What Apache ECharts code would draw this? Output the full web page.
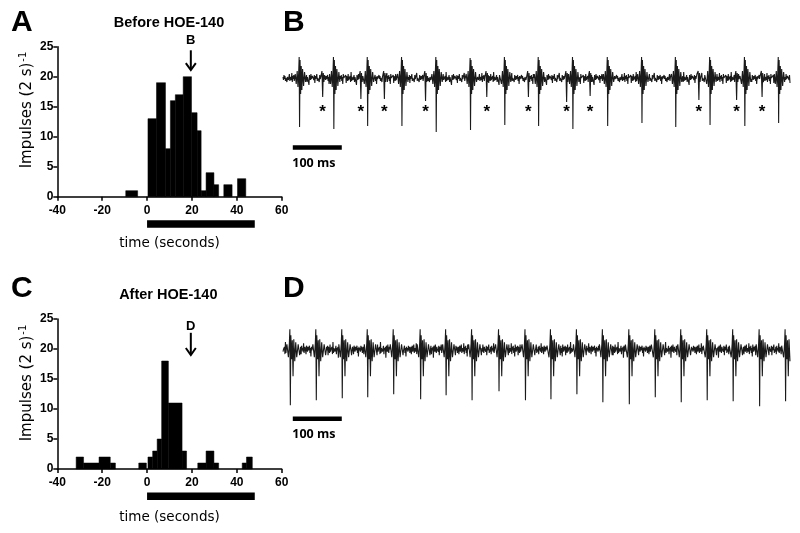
<!DOCTYPE html>
<html><head><meta charset="utf-8">
<script src="https://cdn.jsdelivr.net/npm/echarts@6/dist/echarts.min.js"></script>
<style>html,body{margin:0;padding:0;background:#fff}#c{width:800px;height:533px}</style>
</head><body><div id="c"></div>
<script>
// ---------- Histogram A (before HOE-140): left edge, right edge (s), impulses per 2 s ----------
const binStartA = [-9.5, 0.4, 4.2, 8.2, 10.4, 12.6, 16.1, 19.8, 22.3, 24.1, 26.3, 29.8, 34.2, 40.3];
const binEndA   = [-4.2, 4.2, 8.2, 10.4, 12.6, 16.1, 19.8, 22.3, 24.1, 26.3, 29.8, 31.9, 37.9, 44.0];
const countA    = [1, 13, 19, 8, 16, 17, 20, 14, 11, 1, 4, 2, 2, 3];
// ---------- Histogram C (after HOE-140) ----------
const binStartC = [-31.6, -28.3, -21.4, -16.4, -3.7, 0.4, 2.5, 4.5, 6.5, 9.5, 15.6, 22.6, 26.3, 29.8, 42.4, 44.3];
const binEndC   = [-28.3, -21.4, -16.4, -14.1, -0.3, 2.5, 4.5, 6.5, 9.5, 15.6, 17.6, 26.3, 29.8, 31.9, 44.3, 46.9];
const countC    = [2, 1, 2, 1, 1, 2, 3, 5, 18, 11, 3, 1, 3, 1, 1, 2];
const timeTicks  = [-40, -20, 0, 20, 40, 60];
const countTicks = [0, 5, 10, 15, 20, 25];
const stimulus = [0, 48];              // stimulus bar, seconds
const arrowA = [19.5, 24.4, 21.1, 26.0]; // x, stem top, tip, label y
const arrowC = [19.5, 22.7, 19.0, 23.8];

// ---------- Nerve recordings (ms, amplitude in display units) ----------
const traceEnd = 1035;
const spikeTimesB = [33, 103, 172, 242, 312, 382, 452, 521, 591, 662, 732, 801, 871, 942, 1011];
const spikeUpB    = [21, 21, 21, 21, 21, 20, 21, 21, 21, 21, 21, 21, 21, 21, 21];
const spikeDownB  = [49, 51, 48, 48, 54, 52, 47, 48, 51, 48, 45, 49, 47, 48, 45];
const smallTimesB = [81, 159, 207, 291, 416, 501, 579, 627, 849, 926, 978];
const smallDownB  = [19, 21, 21, 23, 19, 19, 24, 18, 22, 22, 19];
const spikeTimesD = [14, 67, 120, 172, 225, 280, 332, 385, 440, 494, 546, 599, 652, 706, 759, 812, 865, 918, 972, 1025];
const spikeUpD    = [20, 20, 20, 20, 20, 20, 20, 20, 20, 20, 20, 20, 20, 20, 20, 20, 20, 20, 20, 20];
const spikeDownD  = [56, 51, 49, 48, 45, 50, 46, 51, 42, 51, 50, 45, 53, 55, 48, 53, 51, 52, 57, 52];
// baseline noise read as a typical stretch of the record
const noise = [1,-2,3,-1,2,-3,0,2,-4,1,3,-2,-1,4,-3,1,0,-2,5,-4,2,-1,3,-3,1,-6,4,0,-2,2,-1,3,-5,2,1,-3,4,-2,0,-1,2,-4,6,-3,1,2,-2,0,3,-4,1,-1,2,-7,3,1,-2,4,-1,-3,2,0,1,-2,3,-5,2,-1,1,4,-3,0,-2,2,-4,3,-1,1,-2,5,-3,0,2,-1,-4,3,1,-2,2,-1,0,3,-3,1,-6,2,-1];
// spike waveform shapes: offset (ms), value ('U' = peak up, 'D' = peak down)
const shapeB_t = [-8, -6, -4, -2.5, -1, 0, 0.8, 1.8, 3, 4.2, 5.5, 7, 9, 11, 13];
const shapeB_v = [4, -6, 7, -9, 5, 'U', 'D', 18, -16, 12, -12, 9, -8, 6, -4];
const shapeD_t = [-6, -3, -1, 0, 1, 2, 3.5, 5, 6.5, 8, 10, 12, 14, 17, 20];
const shapeD_v = [5, -8, 6, 'U', 'D', 14, -10, 9, -27, 10, -12, 7, -8, 5, -6];
const shapeS_t = [-3, -1.5, 0, 1.2, 2.5];
const shapeS_v = [3, 7, 'D', 5, -4];
const scaleBar = [20, 100]; // start (ms), length (ms)

function buildTrace(spT, spU, spD, shT, shV, smT, smD, noiseShift, noiseGain) {
  const pts = [], windows = [];
  function addShape(t0, up, down, sT, sV) {
    for (let k = 0; k < sT.length; k++) {
      const v = sV[k] === 'U' ? up : (sV[k] === 'D' ? -down : sV[k]);
      pts.push([t0 + sT[k], v]);
    }
    windows.push([t0 + sT[0], t0 + sT[sT.length - 1]]);
  }
  spT.forEach((t, i) => addShape(t, spU[i], spD[i], shT, shV));
  smT.forEach((t, i) => addShape(t, 0, smD[i], shapeS_t, shapeS_v));
  for (let t = 0; t <= traceEnd; t++) {
    if (windows.some(w => t >= w[0] && t <= w[1])) continue;
    pts.push([t, noise[(t + noiseShift) % noise.length] * noiseGain]);
  }
  pts.sort((a, b) => a[0] - b[0]);
  return pts.filter(p => p[0] >= 0 && p[0] <= traceEnd);
}
const traceB = buildTrace(spikeTimesB, spikeUpB, spikeDownB, shapeB_t, shapeB_v, smallTimesB, smallDownB, 0, 1.0);
const traceD = buildTrace(spikeTimesD, spikeUpD, spikeDownD, shapeD_t, shapeD_v, [], [], 37, 1.2);

const FONT = 'Liberation Sans, Arial, sans-serif';
function histAxes(gi) {
  return {
    x: { gridIndex: gi, type: 'value', min: timeTicks[0], max: timeTicks[timeTicks.length - 1],
      interval: timeTicks[1] - timeTicks[0],
      axisLine: { onZero: false, lineStyle: { color: '#000', width: 1.5 } },
      axisTick: { length: 4, lineStyle: { color: '#000', width: 1.5 } },
      axisLabel: { color: '#000', fontSize: 12, fontWeight: 'bold', fontFamily: FONT, margin: 8 },
      splitLine: { show: false },
      name: 'time (seconds)', nameLocation: 'middle', nameGap: gi === 0 ? 40 : 41,
      nameTextStyle: { color: '#000', fontSize: 13.5, fontFamily: 'DejaVu Sans, sans-serif' } },
    y: { gridIndex: gi, type: 'value', min: countTicks[0], max: countTicks[countTicks.length - 1],
      interval: countTicks[1] - countTicks[0],
      axisLine: { show: true, onZero: false, lineStyle: { color: '#000', width: 1.5 } },
      axisTick: { show: true, length: 4, lineStyle: { color: '#000', width: 1.5 } },
      axisLabel: { color: '#000', fontSize: 12, fontWeight: 'bold', fontFamily: FONT, margin: 4 },
      splitLine: { show: false } }
  };
}
function traceAxes(gi) {
  return {
    x: { gridIndex: gi, type: 'value', min: 0, max: traceEnd, show: false, splitLine: { show: false } },
    y: { gridIndex: gi, type: 'value', min: -95, max: 30, show: false, splitLine: { show: false } }
  };
}
const hA = histAxes(0), tB = traceAxes(1), hC = histAxes(2), tD = traceAxes(3);

function histSeries(xi, starts, ends, counts) {
  return {
    type: 'custom', xAxisIndex: xi, yAxisIndex: xi,
    data: starts.map((s, i) => [s, ends[i], counts[i]]),
    encode: { x: [0, 1], y: 2 },
    renderItem: function (params, api) {
      const p0 = api.coord([api.value(0), api.value(2)]);
      const p1 = api.coord([api.value(1), 0]);
      return { type: 'rect', shape: { x: p0[0], y: p0[1], width: p1[0] - p0[0], height: p1[1] - p0[1] },
        style: { fill: '#000', stroke: '#000', lineWidth: 0.5 } };
    }
  };
}
function stimSeries(xi) {
  return {
    type: 'custom', xAxisIndex: xi, yAxisIndex: xi, clip: false,
    data: [[stimulus[0], stimulus[1]]], encode: { x: [0, 1] },
    renderItem: function (params, api) {
      const p0 = api.coord([api.value(0), 0]);
      const p1 = api.coord([api.value(1), 0]);
      return { type: 'rect', shape: { x: p0[0], y: p0[1] + 23.6, width: p1[0] - p0[0], height: 7.4 },
        style: { fill: '#000' } };
    }
  };
}
function arrowSeries(xi, arr, label) {
  return {
    type: 'custom', xAxisIndex: xi, yAxisIndex: xi, clip: false,
    data: [arr], encode: { x: 0, y: [1, 2] },
    renderItem: function (params, api) {
      const top = api.coord([api.value(0), api.value(1)]);
      const tip = api.coord([api.value(0), api.value(2)]);
      const lab = api.coord([api.value(0), api.value(3)]);
      return { type: 'group', children: [
        { type: 'line', shape: { x1: top[0], y1: top[1], x2: tip[0], y2: tip[1] - 1 },
          style: { stroke: '#000', lineWidth: 2 } },
        { type: 'polyline', shape: { points: [[tip[0] - 5, tip[1] - 7], [tip[0], tip[1]], [tip[0] + 5, tip[1] - 7]] },
          style: { stroke: '#000', lineWidth: 2, fill: null } },
        { type: 'text', x: lab[0], y: lab[1], style: { text: label, font: 'bold 13px ' + FONT, fill: '#000',
          align: 'center', verticalAlign: 'middle' } }
      ] };
    }
  };
}
function traceSeries(xi, data) {
  return { type: 'line', xAxisIndex: xi, yAxisIndex: xi, data: data, showSymbol: false, symbol: 'none',
    lineStyle: { color: '#1a1a1a', width: 1.1 }, sampling: null, silent: true };
}
function scaleBarSeries(xi) {
  return {
    type: 'custom', xAxisIndex: xi, yAxisIndex: xi, clip: false,
    data: [[scaleBar[0], scaleBar[0] + scaleBar[1]]], encode: { x: [0, 1] },
    renderItem: function (params, api) {
      const p0 = api.coord([api.value(0), -67.3]);
      const p1 = api.coord([api.value(1), -71.8]);
      return { type: 'group', children: [
        { type: 'rect', shape: { x: p0[0], y: p0[1], width: p1[0] - p0[0], height: p1[1] - p0[1] }, style: { fill: '#000' } },
        { type: 'text', x: p0[0] - 0.5, y: p0[1] + 18, style: { text: scaleBar[1] + ' ms', font: 'bold 12.5px "Open Sans", sans-serif',
          fill: '#000', align: 'left', verticalAlign: 'middle' } }
      ] };
    }
  };
}
function asteriskSeries(xi, times) {
  return {
    type: 'custom', xAxisIndex: xi, yAxisIndex: xi, clip: false,
    data: times.map(t => [t, -31]), encode: { x: 0, y: 1 },
    renderItem: function (params, api) {
      const p = api.coord([api.value(0), api.value(1)]);
      return { type: 'text', x: p[0], y: p[1] + 3, style: { text: '*', font: 'bold 17px ' + FONT, fill: '#000',
        align: 'center', verticalAlign: 'middle' } };
    }
  };
}

function ylabel(y) {
  return { type: 'text', x: 27.5, y: y, rotation: Math.PI / 2,
    style: { text: '{a|Impulses (2 s)}{b|-1}', align: 'center', verticalAlign: 'middle',
      rich: { a: { fontSize: 15, fontFamily: 'DejaVu Sans, sans-serif', fill: '#000' },
              b: { fontSize: 10, fontFamily: 'DejaVu Sans, sans-serif', fill: '#000', verticalAlign: 'top', padding: [0, 0, 8, 1] } } } };
}
function txt(x, y, s, font, align) {
  return { type: 'text', x: x, y: y, style: { text: s, font: font, fill: '#000', align: align || 'center', verticalAlign: 'middle' } };
}

const option = {
  animation: false,
  backgroundColor: '#fff',
  grid: [
    { left: 57.3, top: 46.7, width: 224.4, height: 150 },
    { left: 283, top: 48, width: 507, height: 125 },
    { left: 57.3, top: 319, width: 224.4, height: 150 },
    { left: 283, top: 319.3, width: 507, height: 125 }
  ],
  xAxis: [hA.x, tB.x, hC.x, tD.x],
  yAxis: [hA.y, tB.y, hC.y, tD.y],
  series: [
    histSeries(0, binStartA, binEndA, countA),
    stimSeries(0),
    arrowSeries(0, arrowA, 'B'),
    traceSeries(1, traceB),
    asteriskSeries(1, smallTimesB),
    scaleBarSeries(1),
    histSeries(2, binStartC, binEndC, countC),
    stimSeries(2),
    arrowSeries(2, arrowC, 'D'),
    traceSeries(3, traceD),
    scaleBarSeries(3)
  ],
  graphic: [
    txt(11, 23, 'A', 'bold 30px ' + FONT, 'left'),
    txt(283, 23, 'B', 'bold 30px ' + FONT, 'left'),
    txt(11, 289, 'C', 'bold 30px ' + FONT, 'left'),
    txt(283, 289, 'D', 'bold 30px ' + FONT, 'left'),
    txt(169, 23.3, 'Before HOE-140', 'bold 14.5px ' + FONT),
    txt(168.3, 295, 'After HOE-140', 'bold 14.5px ' + FONT),
    ylabel(110),
    ylabel(383)
  ]
};
const chart = echarts.init(document.getElementById('c'), null, { renderer: 'canvas' });
chart.setOption(option);
</script></body></html>
